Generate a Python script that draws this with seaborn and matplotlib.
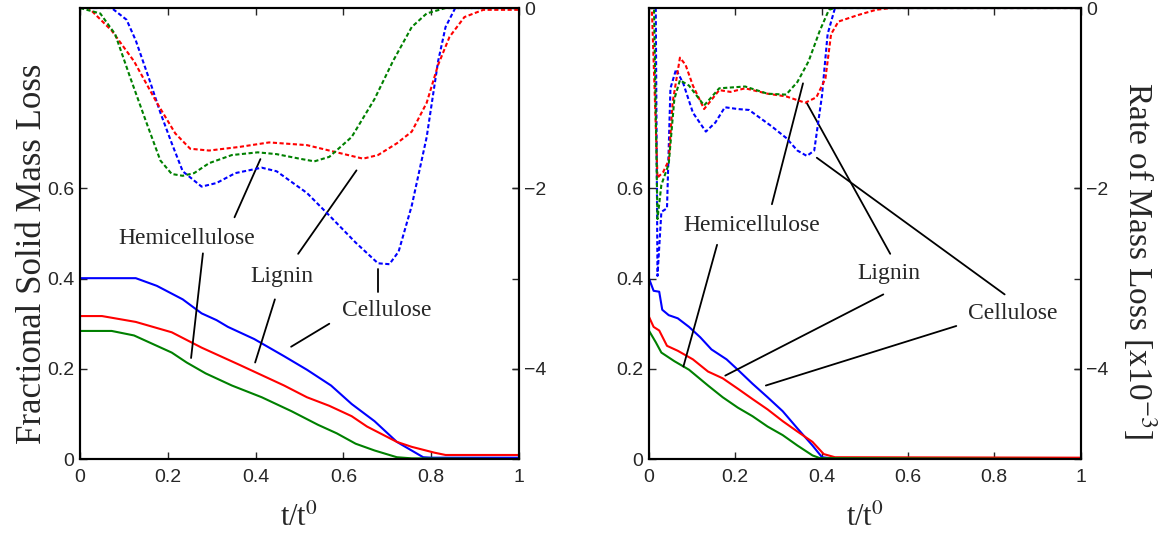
import numpy as np
import pandas as pd
import matplotlib
matplotlib.use("Agg")
import matplotlib.pyplot as plt
import seaborn as sns

# ---------------- data: slow heating (left panel) ----------------
t_mass_cel_a = [0.0, 0.127, 0.175, 0.234, 0.277, 0.311, 0.337, 0.397, 0.465, 0.517, 0.572, 0.619, 0.671, 0.722, 0.782, 0.80, 1.0]
m_cel_a = [0.401, 0.401, 0.384, 0.354, 0.323, 0.308, 0.293, 0.266, 0.228, 0.198, 0.163, 0.122, 0.084, 0.038, 0.004, 0.003, 0.003]
t_mass_lig_a = [0.0, 0.05, 0.127, 0.209, 0.277, 0.363, 0.414, 0.465, 0.517, 0.568, 0.619, 0.654, 0.722, 0.756, 0.808, 0.833, 1.0]
m_lig_a = [0.317, 0.317, 0.304, 0.281, 0.247, 0.209, 0.186, 0.163, 0.137, 0.118, 0.095, 0.072, 0.038, 0.027, 0.014, 0.009, 0.009]
t_mass_hem_a = [0.0, 0.072, 0.123, 0.175, 0.209, 0.243, 0.286, 0.346, 0.414, 0.482, 0.542, 0.585, 0.628, 0.671, 0.722, 0.756, 1.0]
m_hem_a = [0.284, 0.284, 0.274, 0.251, 0.236, 0.214, 0.190, 0.163, 0.137, 0.106, 0.076, 0.057, 0.034, 0.019, 0.004, 0.0015, 0.0]

t_rate_cel_a = [0.0, 0.072, 0.106, 0.127, 0.157, 0.183, 0.209, 0.234, 0.277, 0.311, 0.354, 0.414, 0.448, 0.517, 0.568, 0.628, 0.679, 0.705, 0.726, 0.756, 0.790, 0.816, 0.833, 0.855, 1.0]
r_cel_a = [0.0, 0.0, -0.13, -0.36, -0.78, -1.16, -1.50, -1.81, -1.98, -1.94, -1.83, -1.77, -1.81, -2.05, -2.30, -2.60, -2.83, -2.84, -2.70, -2.19, -1.43, -0.59, -0.21, 0.0, 0.0]
t_rate_lig_a = [0.0, 0.02, 0.072, 0.123, 0.175, 0.217, 0.251, 0.294, 0.363, 0.431, 0.517, 0.585, 0.645, 0.679, 0.722, 0.756, 0.790, 0.816, 0.842, 0.876, 0.919, 1.0]
r_lig_a = [0.0, 0.0, -0.25, -0.59, -1.05, -1.39, -1.56, -1.58, -1.54, -1.49, -1.52, -1.60, -1.67, -1.63, -1.50, -1.37, -1.05, -0.63, -0.32, -0.10, -0.02, -0.02]
t_rate_hem_a = [0.0, 0.046, 0.080, 0.115, 0.149, 0.183, 0.209, 0.234, 0.260, 0.294, 0.346, 0.405, 0.448, 0.500, 0.534, 0.568, 0.619, 0.671, 0.713, 0.756, 0.790, 0.833, 1.0]
r_hem_a = [0.0, -0.06, -0.29, -0.78, -1.24, -1.69, -1.84, -1.86, -1.83, -1.72, -1.63, -1.60, -1.62, -1.67, -1.70, -1.65, -1.43, -1.01, -0.59, -0.21, -0.06, 0.0, 0.0]

# ---------------- data: fast heating (right panel) ----------------
t_mass_cel_b = [0.0, 0.011, 0.024, 0.031, 0.046, 0.067, 0.093, 0.119, 0.145, 0.180, 0.206, 0.240, 0.275, 0.310, 0.344, 0.379, 0.401, 0.42, 1.0]
m_cel_b = [0.401, 0.373, 0.371, 0.331, 0.319, 0.312, 0.293, 0.270, 0.243, 0.221, 0.198, 0.167, 0.137, 0.106, 0.068, 0.030, 0.004, 0.002, 0.002]
t_mass_lig_b = [0.0, 0.011, 0.024, 0.042, 0.067, 0.102, 0.137, 0.171, 0.206, 0.240, 0.275, 0.310, 0.344, 0.379, 0.405, 0.431, 1.0]
m_lig_b = [0.316, 0.293, 0.285, 0.251, 0.240, 0.221, 0.194, 0.179, 0.156, 0.133, 0.110, 0.084, 0.061, 0.038, 0.011, 0.004, 0.003]
t_mass_hem_b = [0.0, 0.016, 0.029, 0.059, 0.093, 0.137, 0.171, 0.206, 0.240, 0.275, 0.310, 0.344, 0.379, 0.396, 1.0]
m_hem_b = [0.285, 0.259, 0.236, 0.217, 0.198, 0.163, 0.137, 0.114, 0.095, 0.072, 0.053, 0.030, 0.008, 0.002, 0.0]

t_rate_cel_b = [0.0, 0.016, 0.020, 0.029, 0.042, 0.050, 0.063, 0.080, 0.102, 0.132, 0.154, 0.176, 0.206, 0.232, 0.284, 0.318, 0.344, 0.366, 0.383, 0.401, 0.414, 0.431, 1.0]
r_cel_b = [0.0, 0.0, -2.97, -2.26, -2.22, -0.89, -0.68, -0.84, -1.16, -1.37, -1.27, -1.10, -1.12, -1.13, -1.31, -1.44, -1.58, -1.64, -1.58, -0.97, -0.29, 0.0, 0.0]
t_rate_lig_b = [0.0, 0.007, 0.020, 0.033, 0.046, 0.055, 0.072, 0.085, 0.102, 0.128, 0.163, 0.189, 0.223, 0.275, 0.318, 0.362, 0.388, 0.409, 0.422, 0.439, 0.483, 0.526, 0.56, 1.0]
r_lig_b = [0.0, 0.0, -1.88, -1.82, -1.69, -1.05, -0.55, -0.63, -0.86, -1.12, -0.91, -0.93, -0.89, -0.95, -0.98, -1.05, -0.99, -0.78, -0.29, -0.15, -0.08, -0.02, 0.0, 0.0]
t_rate_hem_b = [0.0, 0.012, 0.020, 0.029, 0.046, 0.059, 0.072, 0.093, 0.128, 0.163, 0.223, 0.275, 0.318, 0.344, 0.370, 0.396, 0.417, 0.43, 1.0]
r_hem_b = [0.0, 0.0, -2.34, -1.96, -1.73, -1.01, -0.80, -0.86, -1.08, -0.89, -0.87, -0.95, -0.96, -0.82, -0.59, -0.25, -0.02, 0.0, 0.0]

x_ticks = [0, 0.2, 0.4, 0.6, 0.8, 1]
x_tick_labels = ["0", "0.2", "0.4", "0.6", "0.8", "1"]
left_ticks = [0, 0.2, 0.4, 0.6]
left_tick_labels = ["0", "0.2", "0.4", "0.6"]
right_ticks = [-4, -2, 0]
right_tick_labels = ["\u22124", "\u22122", "0"]

species = ["Cellulose", "Lignin", "Hemicellulose"]
colors = {"Cellulose": "#0000ff", "Lignin": "#ff0000", "Hemicellulose": "#008000"}

# callout text positions and leader segments, in data units of the left axis
labels_a = {
    "Hemicellulose": ((0.243, 0.490), [((0.352, 0.536), (0.411, 0.665)), ((0.280, 0.456), (0.253, 0.224))]),
    "Lignin": ((0.459, 0.405), [((0.497, 0.455), (0.630, 0.640)), ((0.444, 0.354), (0.399, 0.214))]),
    "Cellulose": ((0.698, 0.329), [((0.679, 0.371), (0.679, 0.422)), ((0.568, 0.300), (0.481, 0.249))]),
}
labels_b = {
    "Hemicellulose": ((0.239, 0.517), [((0.285, 0.565), (0.357, 0.833)), ((0.158, 0.475), (0.080, 0.205))]),
    "Lignin": ((0.557, 0.411), [((0.559, 0.455), (0.366, 0.789)), ((0.543, 0.365), (0.177, 0.185))]),
    "Cellulose": ((0.842, 0.323), [((0.824, 0.365), (0.389, 0.668)), ((0.712, 0.295), (0.271, 0.163))]),
}

panels = [
    dict(mass={"Cellulose": (t_mass_cel_a, m_cel_a), "Lignin": (t_mass_lig_a, m_lig_a), "Hemicellulose": (t_mass_hem_a, m_hem_a)},
         rate={"Cellulose": (t_rate_cel_a, r_cel_a), "Lignin": (t_rate_lig_a, r_lig_a), "Hemicellulose": (t_rate_hem_a, r_hem_a)},
         labels=labels_a, rect=[0.0686, 0.142, 0.376, 0.843]),
    dict(mass={"Cellulose": (t_mass_cel_b, m_cel_b), "Lignin": (t_mass_lig_b, m_lig_b), "Hemicellulose": (t_mass_hem_b, m_hem_b)},
         rate={"Cellulose": (t_rate_cel_b, r_cel_b), "Lignin": (t_rate_lig_b, r_lig_b), "Hemicellulose": (t_rate_hem_b, r_hem_b)},
         labels=labels_b, rect=[0.556, 0.142, 0.370, 0.843]),
]

sns.set_style("white")
plt.rcParams["font.family"] = ["Liberation Sans", "DejaVu Sans"]
plt.rcParams["mathtext.fontset"] = "stix"
serif = ["Liberation Serif", "DejaVu Serif"]

fig = plt.figure(figsize=(11.67, 5.35), dpi=100)
tick_fs = 14

for i, p in enumerate(panels):
    ax = fig.add_axes(p["rect"])
    ax2 = ax.twinx()
    for name in species:
        t, m = p["mass"][name]
        df = pd.DataFrame({"t": t, "v": m})
        sns.lineplot(data=df, x="t", y="v", ax=ax, color=colors[name], linewidth=1.5,
                     estimator=None, sort=False)
        t, r = p["rate"][name]
        df = pd.DataFrame({"t": t, "v": r})
        sns.lineplot(data=df, x="t", y="v", ax=ax2, color=colors[name], linewidth=1.5,
                     estimator=None, sort=False, linestyle=(0, (2.0, 1.2)))
    ax.set_xlim(0, 1)
    ax.set_ylim(0, 1)
    ax2.set_ylim(-5, 0)
    ax.set_xticks(x_ticks, x_tick_labels)
    ax.set_yticks(left_ticks, left_tick_labels)
    ax2.set_yticks(right_ticks, right_tick_labels)
    ax.tick_params(axis="both", direction="in", length=5, width=1, labelsize=tick_fs,
                   top=True, bottom=True, left=True, right=True, pad=4)
    ax.tick_params(axis="x", pad=7)
    ax.tick_params(axis="y", labelright=False)
    ax2.tick_params(axis="y", direction="in", length=5, width=1, labelsize=tick_fs, pad=4)
    for a in (ax, ax2):
        for s in a.spines.values():
            s.set_linewidth(1.5)
            s.set_color("black")
    ax.set_xlabel("t/t$^{0}$", fontsize=22, family=serif, labelpad=13)
    ax.set_ylabel("")
    ax2.set_ylabel("")
    if i == 0:
        ax.set_ylabel("Fractional Solid Mass Loss", fontsize=25, family=serif,
                      va="center")
        ax.yaxis.set_label_coords(-0.108, 0.455)
    else:
        ax2.set_ylabel("Rate of Mass Loss [x10$^{-3}$]", fontsize=24, family=serif,
                       rotation=270, va="center")
        ax2.yaxis.set_label_coords(1.137, 0.44)
    for name, ((tx, ty), segs) in p["labels"].items():
        ax.text(tx, ty, name, ha="center", va="center", fontsize=17, family=serif, zorder=5)
        for (x0, y0), (x1, y1) in segs:
            ax.plot([x0, x1], [y0, y1], color="black", linewidth=1.3, zorder=5)

fig.savefig("out.png", dpi=100)
